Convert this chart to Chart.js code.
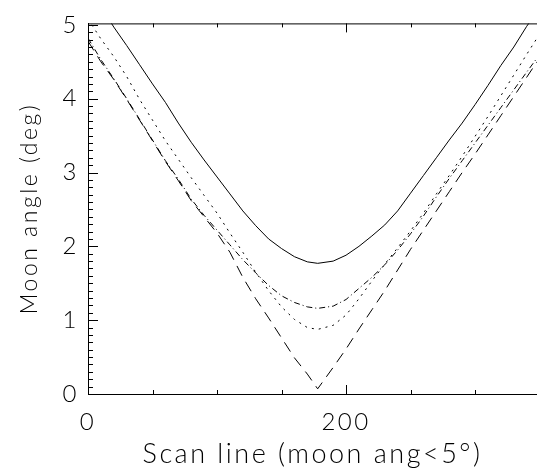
<!DOCTYPE html>
<html>
<head>
<meta charset="utf-8">
<script src="https://cdn.jsdelivr.net/npm/chart.js@4"></script>
<style>
  html, body { margin: 0; padding: 0; background: #fff; }
  #wrap { width: 537px; height: 470px; }
</style>
</head>
<body>
<div id="wrap"><canvas id="moon"></canvas></div>
<script>
// Scan line positions
const scanLines = [0, 10, 20, 30, 40, 50, 60, 70, 80, 90, 100, 110, 120, 130, 140, 150, 160, 170, 178,
  190, 200, 210, 220, 230, 240, 250, 260, 270, 280, 290, 300, 310, 320, 330, 340, 348];

// Moon angle (deg)
const solidAngle = [5.52, 5.25, 4.97, 4.72, 4.46, 4.20, 3.95, 3.67, 3.41, 3.17, 2.94, 2.71, 2.48, 2.28, 2.10, 1.97, 1.86, 1.79, 1.77,
  1.80, 1.88, 2.00, 2.14, 2.29, 2.48, 2.72, 2.96, 3.20, 3.44, 3.67, 3.92, 4.18, 4.45, 4.70, 4.98, 5.18];
const dashDotAngle = [4.82, 4.53, 4.27, 4.00, 3.72, 3.44, 3.16, 2.91, 2.64, 2.42, 2.22, 2.02, 1.82, 1.64, 1.47, 1.33, 1.24, 1.18, 1.16,
  1.19, 1.28, 1.43, 1.58, 1.75, 1.95, 2.17, 2.41, 2.67, 2.92, 3.16, 3.40, 3.64, 3.88, 4.12, 4.36, 4.55];
const dottedAngle = [5.08, 4.81, 4.57, 4.30, 3.99, 3.71, 3.43, 3.18, 2.93, 2.69, 2.45, 2.18, 1.92, 1.65, 1.40, 1.18, 1.01, 0.90, 0.875,
  0.93, 1.07, 1.29, 1.53, 1.76, 1.98, 2.21, 2.45, 2.71, 2.96, 3.22, 3.49, 3.76, 4.04, 4.32, 4.60, 4.82];
const dashedAngle = [4.78, 4.50, 4.26, 3.99, 3.71, 3.43, 3.15, 2.89, 2.62, 2.40, 2.18, 1.92, 1.58, 1.29, 1.03, 0.76, 0.49, 0.27, 0.07,
  0.36, 0.61, 0.88, 1.14, 1.40, 1.68, 1.96, 2.22, 2.48, 2.74, 3.00, 3.25, 3.51, 3.77, 4.03, 4.29, 4.50];

// Tick labels
const xTickLabels = [0, 200];
const xMinorTicks = [50, 100, 150, 250, 300];
const yTickLabels = [0, 1, 2, 3, 4, 5];

const FONT = "Lato";

function toPoints(ys) {
  return scanLines.map((x, i) => ({ x: x, y: ys[i] }));
}

function lineSet(ys, dash) {
  return {
    data: toPoints(ys),
    borderColor: '#000',
    borderWidth: 1,
    borderDash: dash,
    pointRadius: 0,
    tension: 0,
    fill: false
  };
}

// wider letter spacing, the original font is a wide stroke font
const spacing = {
  id: 'spacing',
  beforeLayout(chart) { chart.ctx.letterSpacing = '2.5px'; },
  beforeDraw(chart) { chart.ctx.letterSpacing = '2.5px'; }
};

// Ticks pointing inside the box, plus the top edge (IDL style)
const innerTicks = {
  id: 'innerTicks',
  afterDraw(chart) {
    const ctx = chart.ctx;
    const a = chart.chartArea;
    const xs = chart.scales.x, ys = chart.scales.y;
    ctx.save();
    ctx.strokeStyle = '#000';
    ctx.lineWidth = 1;
    ctx.beginPath();
    // top edge
    ctx.moveTo(a.left, a.top + 0.5);
    ctx.lineTo(a.right, a.top + 0.5);
    // x ticks bottom + top
    xTickLabels.forEach(v => {
      const px = Math.round(xs.getPixelForValue(v)) + 0.5;
      ctx.moveTo(px, a.bottom); ctx.lineTo(px, a.bottom - 9);
      ctx.moveTo(px, a.top); ctx.lineTo(px, a.top + 9);
    });
    xMinorTicks.forEach(v => {
      const px = Math.round(xs.getPixelForValue(v)) + 0.5;
      ctx.moveTo(px, a.bottom); ctx.lineTo(px, a.bottom - 4);
      ctx.moveTo(px, a.top); ctx.lineTo(px, a.top + 4);
    });
    // y ticks
    for (let i = 0; i <= 50; i++) {
      const v = i / 10;
      if (v > ys.max) break;
      const py = Math.round(ys.getPixelForValue(v)) + 0.5;
      const len = (i % 10 === 0) ? 10 : 5;
      ctx.moveTo(a.left, py); ctx.lineTo(a.left + len, py);
    }
    ctx.stroke();
    ctx.restore();
  }
};

new Chart(document.getElementById('moon'), {
  type: 'line',
  data: {
    datasets: [
      lineSet(solidAngle, []),
      lineSet(dashDotAngle, [6, 3, 1, 3]),
      lineSet(dottedAngle, [2, 5]),
      lineSet(dashedAngle, [11, 7])
    ]
  },
  options: {
    responsive: true,
    maintainAspectRatio: false,
    animation: false,
    layout: { padding: { top: 8, right: 0, left: 0, bottom: 0 } },
    plugins: { legend: { display: false }, tooltip: { enabled: false } },
    scales: {
      x: {
        type: 'linear',
        min: 0,
        max: 348,
        afterBuildTicks: s => { s.ticks = xTickLabels.map(v => ({ value: v })); },
        afterFit: s => { s.height = 76; },
        grid: { display: false, drawTicks: false },
        border: { display: true, color: '#000', width: 1 },
        ticks: {
          color: '#000',
          padding: 14,
          maxRotation: 0,
          font: { family: FONT, size: 24, weight: 300 }
        },
        title: {
          display: true,
          text: 'Scan line (moon ang<5°)',
          color: '#000',
          padding: { top: 2, bottom: 0 },
          font: { family: FONT, size: 27, weight: 300 }
        }
      },
      y: {
        type: 'linear',
        min: 0,
        max: 5.02,
        afterBuildTicks: s => { s.ticks = yTickLabels.map(v => ({ value: v })); },
        afterFit: s => { s.width = 88; },
        grid: { display: false, drawTicks: false },
        border: { display: true, color: '#000', width: 1 },
        ticks: {
          color: '#000',
          padding: 9,
          font: { family: FONT, size: 24, weight: 300 }
        },
        title: {
          display: true,
          text: 'Moon angle (deg)',
          color: '#000',
          padding: { top: 16, bottom: 0 },
          font: { family: FONT, size: 23, weight: 300 }
        }
      }
    }
  },
  plugins: [spacing, innerTicks]
});
</script>
</body>
</html>
